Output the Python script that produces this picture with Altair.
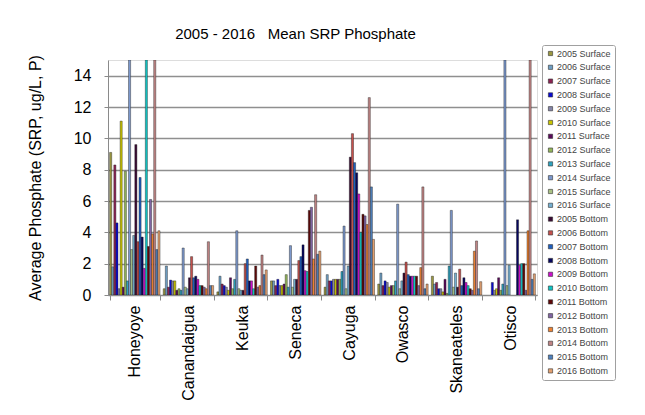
import altair as alt
import pandas as pd

lakes = ["Honeyoye", "Canandaigua", "Keuka", "Seneca", "Cayuga", "Owasco", "Skaneateles", "Otisco"]

series_names = [
    "2005 Surface", "2006 Surface", "2007 Surface", "2008 Surface", "2009 Surface", "2010 Surface",
    "2011 Surface", "2012 Surface", "2013 Surface", "2014 Surface", "2015 Surface", "2016 Surface",
    "2005 Bottom", "2006 Bottom", "2007 Bottom", "2008 Bottom", "2009 Bottom", "2010 Bottom",
    "2011 Bottom", "2012 Bottom", "2013 Bottom", "2014 Bottom", "2015 Bottom", "2016 Bottom",
]

series_colors = [
    "#9c9840", "#6f9fc4", "#8b2252", "#0a0ad0", "#8585a8", "#c8c400",
    "#5a0a5a", "#93b55a", "#2fa3bf", "#7c98cc", "#a9c184", "#74afd0",
    "#3a0a33", "#c4504c", "#1f5fbf", "#06065e", "#cc10cc", "#10c4c4",
    "#5e0808", "#8064a2", "#ee8232", "#c08484", "#4f81bd", "#e2a070",
]

# values per lake, in series order (surface 2005-2016, then bottom 2005-2016)
honeoye = [9.1, 1.8, 8.3, 4.6, 0.4, 11.1, 0.5, 7.9, 0.9, 18.0, 2.9, 3.8,
           9.6, 3.4, 7.5, 3.7, 1.7, 17.0, 3.1, 6.1, 3.9, 16.0, 2.9, 4.1]
canandaigua = [0.4, 1.85, 0.5, 0.95, 0.9, 0.9, 0.3, 0.4, 0.3, 3.0, 0.5, 0.4,
               1.1, 2.45, 1.1, 1.2, 1.0, 0.6, 0.6, 0.5, 0.4, 3.4, 0.6, 0.6]
keuka = [0.2, 1.2, 0.7, 0.6, 0.5, 0.3, 1.1, 0.4, 1.0, 4.1, 0.4, 0.3,
         0.3, 2.0, 2.3, 0.9, 0.9, 0.4, 1.85, 0.5, 0.6, 2.55, 1.3, 1.6]
seneca = [0.9, 0.9, 0.6, 1.0, 0.6, 0.6, 0.7, 1.3, 0.5, 3.15, 0.5, 1.0,
          1.0, 2.2, 2.45, 3.2, 1.55, 1.5, 5.4, 5.6, 2.3, 6.4, 2.6, 2.8]
cayuga = [0.5, 1.3, 0.9, 0.9, 1.0, 1.0, 1.0, 1.0, 1.5, 4.4, 0.4, 1.85,
          8.8, 10.3, 8.45, 7.8, 6.45, 4.0, 5.15, 5.05, 4.5, 12.6, 6.9, 3.55]
owasco = [0.7, 1.4, 0.6, 0.9, 0.8, 0.5, 0.6, 0.6, 0.9, 5.8, 0.4, 0.9,
          1.4, 2.1, 1.3, 1.2, 1.2, 1.2, 1.2, 0.6, 1.75, 6.9, 0.4, 0.7]
skaneateles = [1.2, 0.7, 0.8, 0.4, 0.4, 0.2, 1.0, 0.1, 1.85, 5.4, 0.5, 1.4,
               0.5, 1.65, 0.6, 1.1, 0.8, 0.6, 0.4, 0.3, 2.8, 3.45, 0.4, 0.85]
otisco = [None, None, None, 0.8, 0.3, 0.4, 1.1, 0.3, 0.7, 17.0, 0.6, 1.9,
          None, None, None, 4.8, 1.9, 2.0, 2.0, 0.3, 4.1, 16.0, 1.0, 1.35]

lake_values = [honeoye, canandaigua, keuka, seneca, cayuga, owasco, skaneateles, otisco]

rows = []
for lake, values in zip(lakes, lake_values):
    for name, value in zip(series_names, values):
        rows.append({"lake": lake, "series": name, "value": value})
frame = pd.DataFrame(rows)

font = "Liberation Sans"

chart = (
    alt.Chart(frame)
    .mark_bar(stroke="#1a1a1a", strokeWidth=0.4, clip=True)
    .encode(
        x=alt.X(
            "lake:N",
            sort=lakes,
            title=None,
            scale=alt.Scale(paddingInner=0.06, paddingOuter=0.03),
            axis=alt.Axis(
                labelAngle=-90,
                labelAlign="right",
                labelBaseline="middle",
                labelFontSize=16,
                labelFont=font,
                labelColor="#000000",
                labelPadding=5,
                tickBand="extent",
                tickSize=5,
                tickColor="#8a8a8a",
                domainColor="#8a8a8a",
            ),
        ),
        xOffset=alt.XOffset("series:N", sort=series_names, scale=alt.Scale(paddingInner=0, paddingOuter=0)),
        y=alt.Y(
            "value:Q",
            title="Average Phosphate (SRP, ug/L, P)",
            scale=alt.Scale(domain=[0, 15], nice=False, clamp=True),
            axis=alt.Axis(
                values=[0, 2, 4, 6, 8, 10, 12, 14],
                labelFontSize=16,
                labelFont=font,
                labelColor="#000000",
                labelPadding=13,
                tickSize=4,
                tickColor="#8a8a8a",
                domainColor="#8a8a8a",
                gridColor="#8f8f8f",
                gridWidth=1.5,
                titleFont=font,
                titleFontSize=16,
                titleFontWeight="normal",
                titleColor="#000000",
                titlePadding=30,
            ),
        ),
        color=alt.Color(
            "series:N",
            sort=series_names,
            scale=alt.Scale(domain=series_names, range=series_colors),
            legend=alt.Legend(
                title=None,
                orient="none",
                legendX=434,
                legendY=-15,
                symbolType="square",
                symbolSize=18,
                symbolStrokeColor="#333333",
                symbolStrokeWidth=0.6,
                labelFont=font,
                labelFontSize=9,
                labelColor="#444444",
                labelOffset=2,
                rowPadding=3.8,
                padding=4,
                strokeColor="#a0a0a0",
                cornerRadius=2,
                fillColor="#ffffff",
            ),
        ),
    )
    .properties(
        width=429,
        height=235,
        autosize=alt.AutoSizeParams(type="none"),
        padding={"left": 100, "top": 52, "right": 100, "bottom": 112},
        title=alt.TitleParams(
            "2005 - 2016\u00a0\u00a0\u00a0Mean SRP Phosphate",
            font=font,
            fontSize=15,
            fontWeight="normal",
            color="#000000",
            anchor="middle",
            dx=-27,
            offset=3,
        ),
    )
    .configure_view(stroke="#959595", strokeWidth=1)
    .configure(background="#ffffff")
)

chart.save("out.html", embed_options={"renderer": "svg", "actions": False})
